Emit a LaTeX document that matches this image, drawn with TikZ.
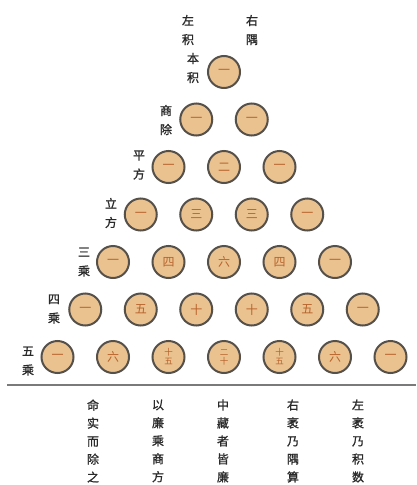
\documentclass[tikz,border=0pt]{standalone}
\usepackage{fontspec}
\newfontfamily\cjk{Noto Sans CJK SC}
\newfontfamily\cjkb[FakeBold=1.2]{Noto Sans CJK SC}
\definecolor{ballfill}{HTML}{EAC28F}
\definecolor{balledge}{HTML}{55504A}
\definecolor{numcol}{HTML}{B8622A}
\definecolor{labcol}{HTML}{2A2A2A}
\definecolor{rulecol}{HTML}{7A7A7A}
\begin{document}
\begin{tikzpicture}[x=1pt,y=-1pt,
  ball/.style={circle,minimum size=32pt,inner sep=0pt,fill=ballfill,draw=balledge,line width=2pt,text=numcol,font=\cjk\fontsize{12}{12}\selectfont},
  twoball/.style={ball,align=center,font=\cjk\fontsize{8.5}{9}\selectfont},
  vlab/.style={align=center,text=labcol,inner sep=0pt,font=\cjkb\fontsize{12}{19}\selectfont},
  blab/.style={align=center,text=labcol,inner sep=0pt,font=\cjkb\fontsize{12}{18}\selectfont}]
\useasboundingbox (0,0) rectangle (416,485);
\fill[white] (0,0) rectangle (416,485);
% labels
\node[vlab] (lz) at (188,30) {左\\积};
\node[vlab] (ry) at (252,30) {右\\隅};
\node[vlab] (bj) at (193,68) {本\\积};
\node[vlab] (sc) at (166,120) {商\\除};
\node[vlab] (pf) at (139,165) {平\\方};
\node[vlab] (lf) at (111,213) {立\\方};
\node[vlab] (s3) at (84,262) {三\\乘};
\node[vlab] (s4) at (54,309) {四\\乘};
\node[vlab] (s5) at (28,361) {五\\乘};
% balls
\def\dx{55.5}\def\dy{47.5}
\newcommand{\bpos}[2]{({224+(#2-#1/2)*\dx},{72+#1*\dy})}
\node[ball] (b00) at \bpos{0}{0} {一};
\node[ball] (b10) at \bpos{1}{0} {一};
\node[ball] (b11) at \bpos{1}{1} {一};
\node[ball] (b20) at \bpos{2}{0} {一};
\node[ball] (b21) at \bpos{2}{1} {二};
\node[ball] (b22) at \bpos{2}{2} {一};
\node[ball] (b30) at \bpos{3}{0} {一};
\node[ball] (b31) at \bpos{3}{1} {三};
\node[ball] (b32) at \bpos{3}{2} {三};
\node[ball] (b33) at \bpos{3}{3} {一};
\node[ball] (b40) at \bpos{4}{0} {一};
\node[ball] (b41) at \bpos{4}{1} {四};
\node[ball] (b42) at \bpos{4}{2} {六};
\node[ball] (b43) at \bpos{4}{3} {四};
\node[ball] (b44) at \bpos{4}{4} {一};
\node[ball] (b50) at \bpos{5}{0} {一};
\node[ball] (b51) at \bpos{5}{1} {五};
\node[ball] (b52) at \bpos{5}{2} {十};
\node[ball] (b53) at \bpos{5}{3} {十};
\node[ball] (b54) at \bpos{5}{4} {五};
\node[ball] (b55) at \bpos{5}{5} {一};
\node[ball] (b60) at \bpos{6}{0} {一};
\node[ball] (b61) at \bpos{6}{1} {六};
\node[twoball] (b62) at \bpos{6}{2} {十\\五};
\node[twoball] (b63) at \bpos{6}{3} {二\\十};
\node[twoball] (b64) at \bpos{6}{4} {十\\五};
\node[ball] (b65) at \bpos{6}{5} {六};
\node[ball] (b66) at \bpos{6}{6} {一};
% rule
\coordinate (rl) at (7,385);
\coordinate (rr) at (416,385);
\draw[rulecol,line width=2.6pt] (rl) -- (rr);
% bottom text
\node[blab] (t1) at (93,441) {命\\实\\而\\除\\之};
\node[blab] (t2) at (158,441) {以\\廉\\乘\\商\\方};
\node[blab] (t3) at (223,441) {中\\藏\\者\\皆\\廉};
\node[blab] (t4) at (293,441) {右\\袤\\乃\\隅\\算};
\node[blab] (t5) at (358,441) {左\\袤\\乃\\积\\数};
\end{tikzpicture}
\end{document}
